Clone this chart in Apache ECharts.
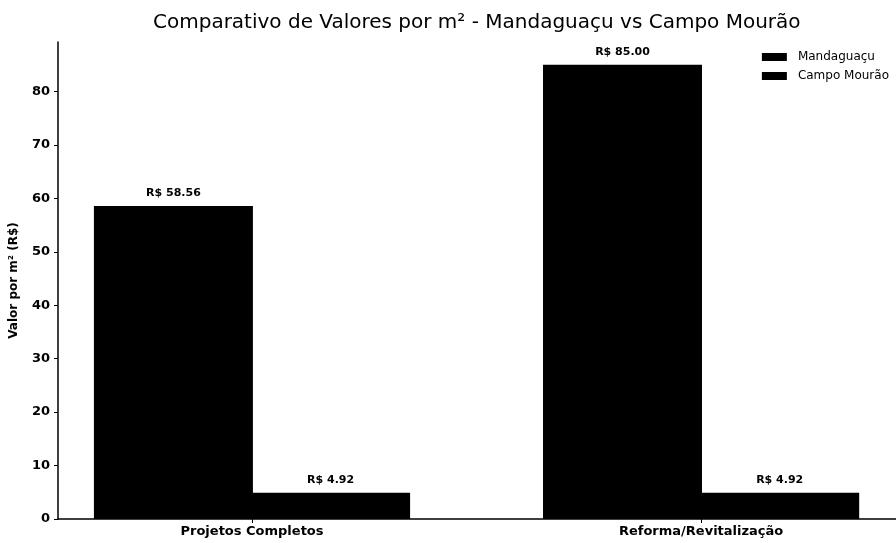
<!DOCTYPE html>
<html>
<head>
<meta charset="utf-8">
<script src="https://cdn.jsdelivr.net/npm/echarts@6/dist/echarts.min.js"></script>
<style>
  html, body { margin: 0; padding: 0; background: #fff; }
  #chart { width: 896px; height: 543px; }
</style>
</head>
<body>
<div id="chart"></div>
<script>
// data
var categories = ['Projetos Completos', 'Reforma/Revitalização']
var mandaguacu = [58.56, 85.00]
var campoMourao = [4.92, 4.92]
var yTicks = [0, 10, 20, 30, 40, 50, 60, 70, 80]

var barW = 0.35

var myChart = echarts.init(document.getElementById('chart'))

function pts(vals, shift) {
  return vals.map(function (v, i) { return [i + shift, v] })
}

function money(p) {
  return 'R$ ' + p.value[1].toFixed(2)
}

var barLabel = {
  show: true, position: 'top', formatter: money,
  fontFamily: 'DejaVu Sans', fontSize: 11, fontWeight: 'bold', color: '#000', distance: 7
}

var option = {
  animation: false,
  backgroundColor: '#fff',
  textStyle: { fontFamily: 'DejaVu Sans', color: '#000' },
  title: {
    text: 'Comparativo de Valores por m² - Mandaguaçu vs Campo Mourão',
    left: 148,
    top: 8,
    textStyle: { fontFamily: 'DejaVu Sans', fontSize: 20, fontWeight: 'normal', color: '#000' }
  },
  legend: {
    orient: 'vertical',
    right: 2,
    top: 46,
    itemWidth: 25,
    itemHeight: 8,
    itemGap: 7,
    icon: 'rect',
    textStyle: { fontFamily: 'DejaVu Sans', fontSize: 12, color: '#000', padding: [0, 0, 0, 6] },
    data: ['Mandaguaçu', 'Campo Mourão']
  },
  grid: { left: 58, width: 845, top: 42, bottom: 24, containLabel: false },
  xAxis: {
    type: 'value',
    min: -0.432,
    max: 1.434,
    splitLine: { show: false },
    axisLine: { show: true, onZero: false, lineStyle: { color: '#000', width: 1.5 } },
    axisTick: { show: true, customValues: [0, 1], length: 4, lineStyle: { color: '#000' } },
    axisLabel: {
      customValues: [0, 1],
      formatter: function (v) { return categories[Math.round(v)] },
      fontFamily: 'DejaVu Sans',
      fontSize: 13,
      fontWeight: 'bold',
      color: '#000',
      margin: 6
    }
  },
  yAxis: {
    type: 'value',
    min: 0,
    max: 89.25,
    interval: 10,
    name: 'Valor por m² (R$)',
    nameLocation: 'middle',
    nameGap: 38,
    nameTextStyle: { fontFamily: 'DejaVu Sans', fontSize: 12, fontWeight: 'bold', color: '#000' },
    splitLine: { show: false },
    axisLine: { show: true, onZero: false, lineStyle: { color: '#000', width: 1.5 } },
    axisTick: { show: true, customValues: yTicks, length: 4, lineStyle: { color: '#000' } },
    axisLabel: {
      customValues: yTicks,
      fontFamily: 'DejaVu Sans',
      fontSize: 13,
      fontWeight: 'bold',
      color: '#000',
      margin: 8
    }
  },
  series: [
    {
      name: 'Mandaguaçu',
      type: 'bar',
      barWidth: 159,
      barGap: '-100%',
      itemStyle: { color: '#000' },
      label: barLabel,
      data: pts(mandaguacu, -barW / 2)
    },
    {
      name: 'Campo Mourão',
      type: 'bar',
      barWidth: 159,
      barGap: '-100%',
      itemStyle: { color: '#000' },
      label: barLabel,
      data: pts(campoMourao, barW / 2)
    }
  ]
}

myChart.setOption(option)
</script>
</body>
</html>
